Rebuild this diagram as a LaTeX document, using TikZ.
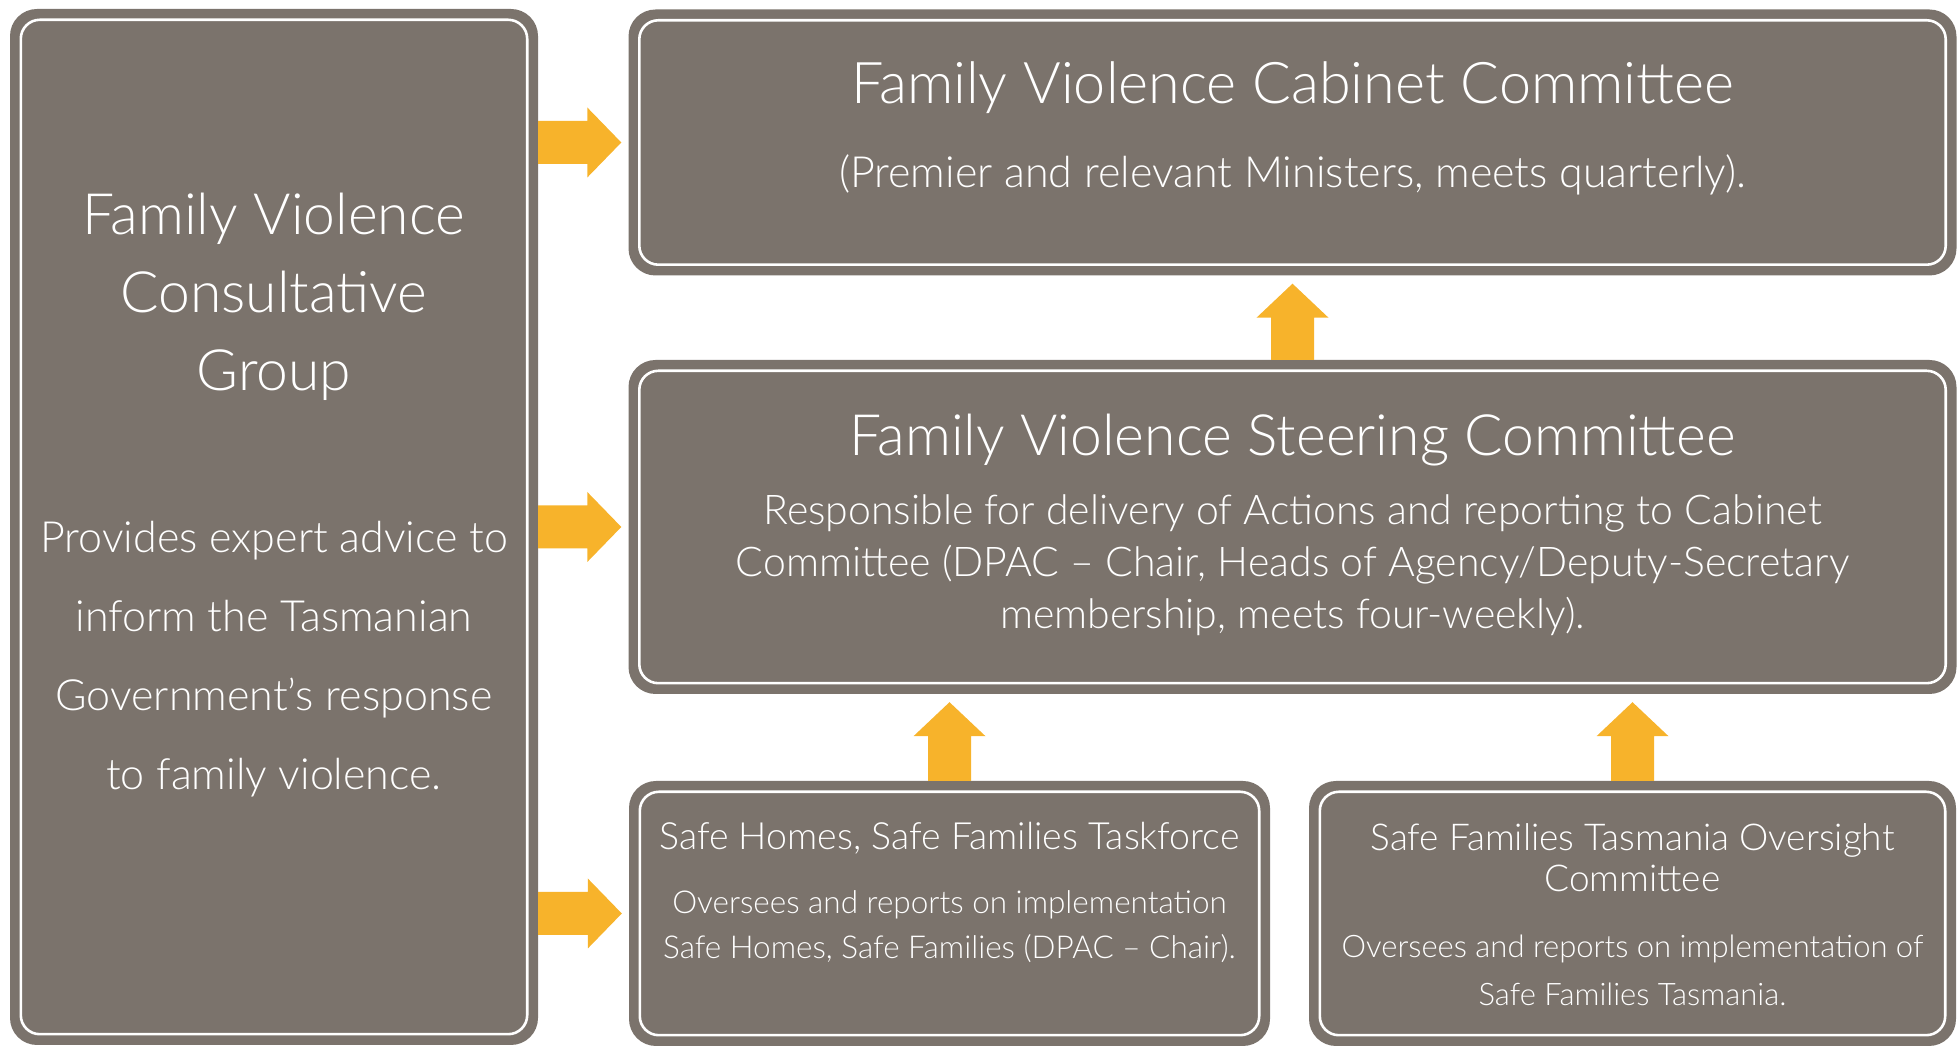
\documentclass[tikz,border=0pt]{standalone}
\usepackage{fontspec}
\IfFontExistsTF{Lato Light}{\setmainfont{Lato Light}}{\setmainfont{Lato}}
\usetikzlibrary{calc}
\definecolor{boxgray}{HTML}{7B736C}
\definecolor{arrorange}{HTML}{F7B32B}
\newcommand\fsz[2]{\fontsize{#1}{#2}\selectfont}
\tikzset{
  box/.style={rounded corners=27pt, fill=boxgray, draw=none, inner sep=0pt},
  txt/.style={text=white, align=center, inner sep=0pt},
  innerline/.style={white, line width=2.6pt, rounded corners=19pt},
  arrowfill/.style={fill=arrorange}
}
\newcommand\arrR[2]{\fill[arrowfill] let \p1=(#1), \p2=(#2) in
  (\x1,\y1-21.5pt) -- (\x2-41pt,\y1-21.5pt) -- (\x2-41pt,\y1-35pt) -- (\x2-7pt,\y1)
  -- (\x2-41pt,\y1+35pt) -- (\x2-41pt,\y1+21.5pt) -- (\x1,\y1+21.5pt) -- cycle;}
\newcommand\arrU[2]{\fill[arrowfill] let \p1=(#1), \p2=(#2) in
  (\x1-21.5pt,\y1) -- (\x1-21.5pt,\y2-42pt) -- (\x1-36pt,\y2-42pt) -- (\x1,\y2-8pt)
  -- (\x1+36pt,\y2-42pt) -- (\x1+21.5pt,\y2-42pt) -- (\x1+21.5pt,\y1) -- cycle;}
\begin{document}
\begin{tikzpicture}[x=1pt,y=1pt]
\useasboundingbox (0,0) rectangle (1960,1049);
% boxes
\node[box, minimum width=528pt, minimum height=1036pt] (L) at (274,522) {};
\node[box, minimum width=1328pt, minimum height=266pt] (T) at (1292.5,906.5) {};
\node[box, minimum width=1328pt, minimum height=334pt] (M) at (1292.5,522) {};
\node[box, minimum width=641pt, minimum height=265pt] (BL) at (949.5,135.5) {};
\node[box, minimum width=647pt, minimum height=265pt] (BR) at (1632.5,135.5) {};
\foreach \n in {L,T,M,BL,BR}
  \draw[innerline] ([shift={(11pt,-11pt)}]\n.north west) rectangle ([shift={(-11pt,11pt)}]\n.south east);
% arrows
\arrR{L.east |- T.center}{T.west}
\arrR{L.east |- M.center}{M.west}
\arrR{L.east |- BL.center}{BL.west}
\arrU{M.north}{T.south}
\arrU{BL.north}{M.south}
\arrU{BR.north}{M.south}
% texts
\node[txt, font=\fsz{57.5}{78}] (Tt) at (1292.5,961) {Family Violence Cabinet Committee};
\node[txt, font=\fsz{43}{45}] (Ts) at (1292.5,874) {(Premier and relevant Ministers, meets quarterly).};
\node[txt, font=\fsz{57}{78}] (Mt) at (1292.5,609) {Family Violence Steering Committee};
\node[txt, font=\fsz{41}{52}] (Mb) at (1292.5,484) {Responsible for delivery of Actions and reporting to Cabinet\\Committee (DPAC – Chair, Heads of Agency/Deputy-Secretary\\membership, meets four-weekly).};
\node[txt, font=\fsz{37.5}{41}] (BLt) at (949.5,211) {Safe Homes, Safe Families Taskforce};
\node[txt, font=\fsz{31.5}{45}] (BLb) at (949.5,122) {Oversees and reports on implementation\\Safe Homes, Safe Families (DPAC – Chair).};
\node[txt, font=\fsz{37}{41}] (BRt) at (1632.5,191) {Safe Families Tasmania Oversight\\Committee};
\node[txt, font=\fsz{31}{48}] (BRb) at (1632.5,79) {Oversees and reports on implementation of\\Safe Families Tasmania.};
\node[txt, font=\fsz{57}{78}] (Lt) at (274,752) {Family Violence\\Consultative\\Group};
\node[txt, font=\fsz{43}{79}] (Lb) at (274,390) {Provides expert advice to\\inform the Tasmanian\\Government’s response\\to family violence.};
\end{tikzpicture}
\end{document}
